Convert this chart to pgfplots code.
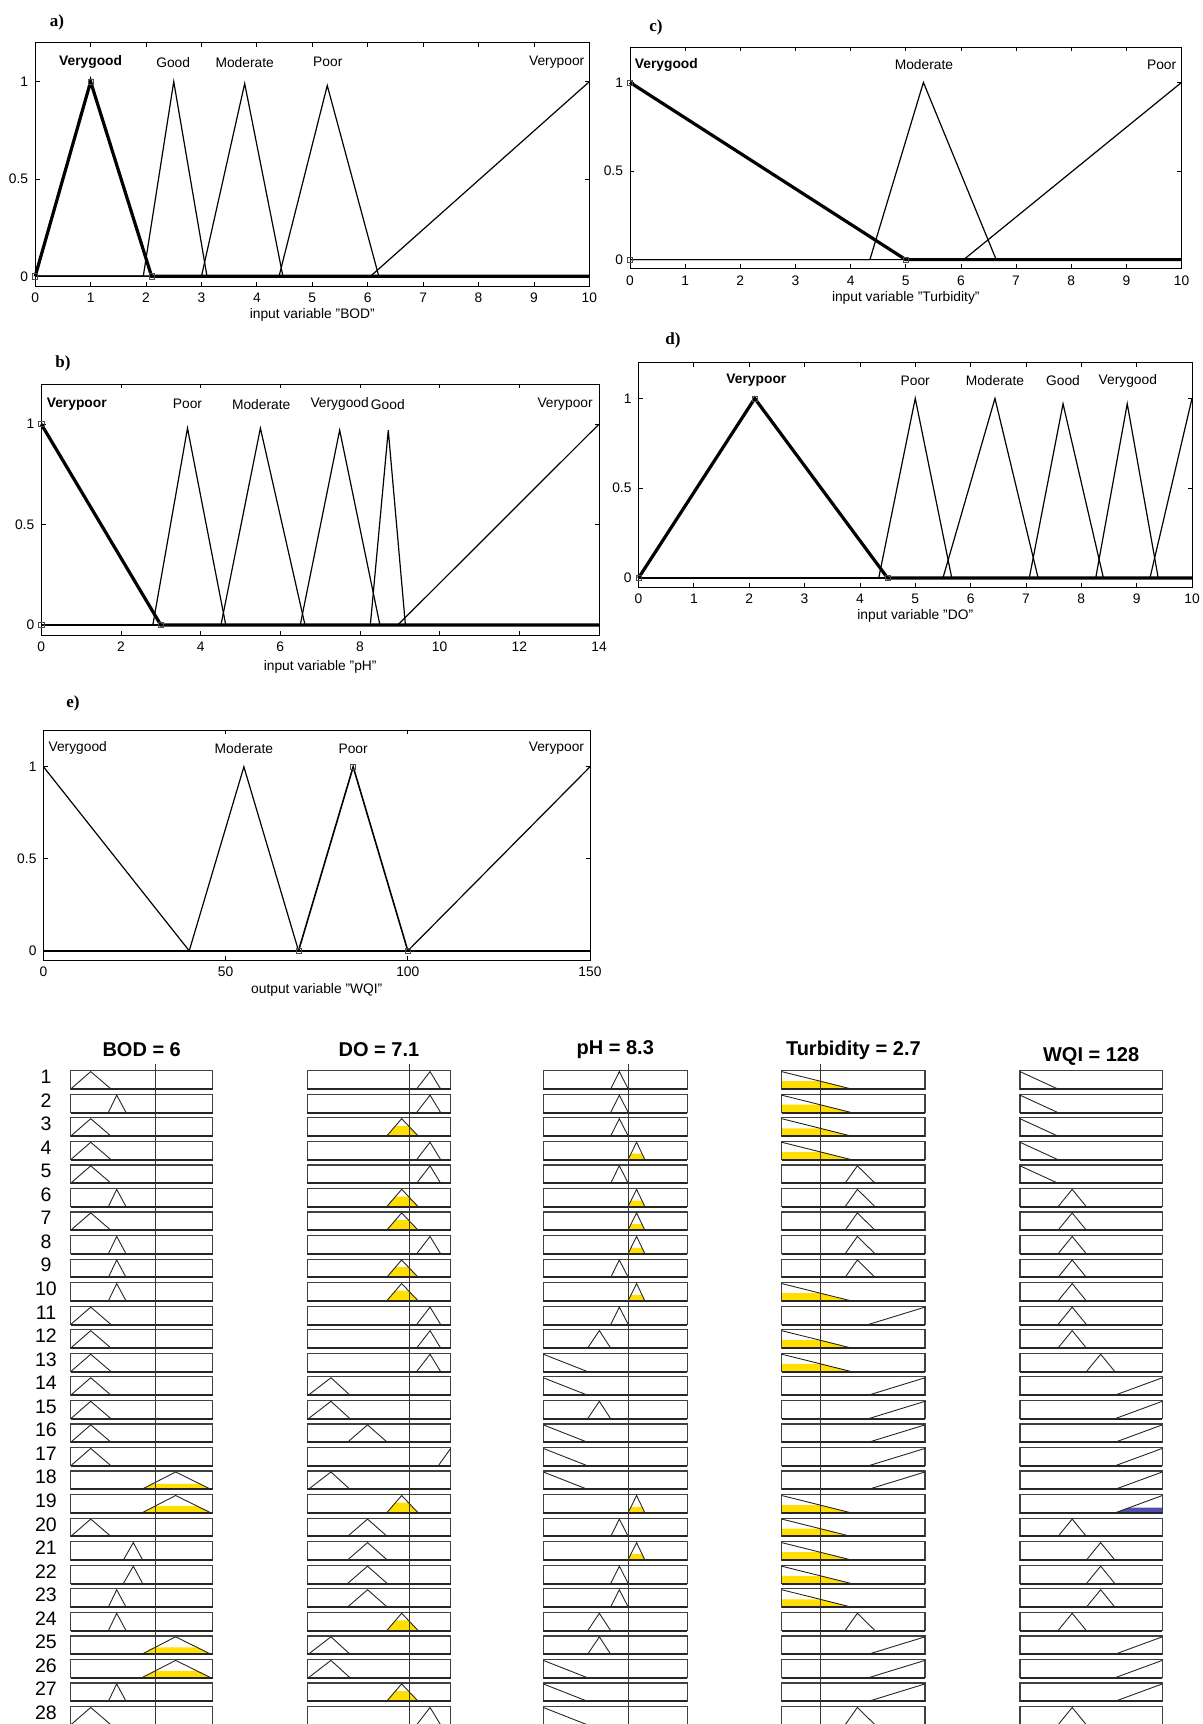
\documentclass[border=0pt]{standalone}
\usepackage{fontspec}
\setmainfont{Liberation Sans}
\newfontfamily\serifb{Liberation Serif}
\usepackage{pgfplots}
\pgfplotsset{compat=1.18}
\definecolor{ryellow}{RGB}{255,222,0}
\definecolor{rblue}{RGB}{80,80,175}
\newcommand\fs{\fontsize{6.9}{8}\selectfont}
\newcommand\plab{\serifb\fontsize{8.5}{10}\selectfont\bfseries}
\tikzset{
 nm/.style={font=\fs, inner sep=0pt},
 rtitle/.style={font=\fontsize{10}{12}\selectfont\bfseries},
}
\pgfplotsset{
 mfpanel/.style={scale only axis, anchor=north west, ymin=-0.05, ymax=1.2,
   ytick={0,0.5,1}, yticklabels={0,0.5,1}, tick align=inside, xtick pos=both, ytick pos=both,
   major tick length=2.2pt, axis line style={line width=0.5pt},
   every tick/.style={black, line width=0.4pt},
   tick label style={font=\fs}, label style={font=\fs},
   /pgf/number format/assume math mode=true, clip=false},
 mf/.style={black, line width=0.6pt, no markers},
 sel/.style={black, line width=1.6pt, no markers},
 sq/.style={only marks, mark=square, mark size=1.3pt, mark options={black!70, line width=0.3pt}},
 rv/.style={scale only axis, anchor=north west, hide axis, clip=false, y dir=reverse,
   ymin=-0.285, ymax=27.74, height=330pt},
 rboxst/.style={draw=black!75, line width=0.6pt, no markers},
 rbot/.style={draw=black!85, line width=1pt, no markers},
 rline/.style={draw=black!85, line width=0.45pt, no markers},
 vline/.style={draw=black!80, line width=0.45pt, no markers},
}
% rule-viewer helpers: row #1, membership value v drawn inside row box
\newcommand\rmf[2]{\addplot[rline, y filter/.expression={#1-1+0.74*(1.05-y)}] coordinates {#2};}
\newcommand\rfill[3][ryellow]{\addplot[fill=#1, draw=none, no markers, y filter/.expression={#2-1+0.74*(1.05-y)}] coordinates {#3} -- cycle;}
\newcommand\rbox[2]{\addplot[rboxst, y filter/.expression={#1-1+0.74*(1.05-y)}] coordinates {(0,0)(#2,0)(#2,1.05)(0,1.05)} -- cycle;
 \addplot[rbot, y filter/.expression={#1-1+0.74*(1.05-y)}] coordinates {(0,0)(#2,0)};}
% BOD shapes
\newcommand\bVG[1]{\rmf{#1}{(0,0)(1.41,1)(2.84,0)}}
\newcommand\bG[1]{\rmf{#1}{(2.65,0)(3.24,1)(3.9,0)}}
\newcommand\bC[1]{\rmf{#1}{(3.71,0)(4.41,1)(5.07,0)}}
\newcommand\bD[1]{\rmf{#1}{(5.0,0)(7.39,1)(9.88,0)}}
% DO shapes
\newcommand\dVG[1]{\rmf{#1}{(7.62,0)(8.56,1)(9.3,0)}}
\newcommand\dG[1]{\rmf{#1}{(5.53,0)(6.58,1)(7.74,0)}}
\newcommand\dVP[1]{\rmf{#1}{(0.07,0)(1.65,1)(2.98,0)}}
\newcommand\dM[1]{\rmf{#1}{(2.8,0)(4.2,1)(5.58,0)}}
\newcommand\dR[1]{\rmf{#1}{(9.13,0)(10,1)}}
% pH shapes
\newcommand\pA[1]{\rmf{#1}{(6.55,0)(7.39,1)(8.26,0)}}
\newcommand\pY[1]{\rmf{#1}{(8.23,0)(9.07,1)(9.88,0)}}
\newcommand\pB[1]{\rmf{#1}{(4.31,0)(5.45,1)(6.55,0)}}
\newcommand\pR[1]{\rmf{#1}{(0,1)(4.31,0)}}
% Turbidity shapes
\newcommand\tV[1]{\rmf{#1}{(0,1)(4.88,0)}}
\newcommand\tM[1]{\rmf{#1}{(4.42,0)(5.28,1)(6.52,0)}}
\newcommand\tP[1]{\rmf{#1}{(6.04,0)(10,1)}}
% WQI shapes
\newcommand\wV[1]{\rmf{#1}{(0,1)(40,0)}}
\newcommand\wM[1]{\rmf{#1}{(40,0)(55,1)(70,0)}}
\newcommand\wP[1]{\rmf{#1}{(70,0)(85,1)(100,0)}}
\newcommand\wR[1]{\rmf{#1}{(100,0)(150,1)}}

\begin{document}
\begin{tikzpicture}
\useasboundingbox (0,0) rectangle (601.5pt,-862pt);

% ---------- a) BOD
\node[font=\plab] at (28.5pt,-11pt) {a)};
\begin{axis}[mfpanel, at={(17.6pt,-21.35pt)}, width=277.1pt, height=121.65pt,
  xmin=0, xmax=10, xtick={0,1,...,10}, xlabel={input variable "BOD"}, xlabel style={yshift=4pt}]
\addplot[mf] coordinates {(0,0)(1.95,0)(2.5,1)(3.1,0)(10,0)};
\addplot[mf] coordinates {(0,0)(3.0,0)(3.78,0.99)(4.47,0)(10,0)};
\addplot[mf] coordinates {(0,0)(4.4,0)(5.27,0.98)(6.2,0)(10,0)};
\addplot[mf] coordinates {(0,0)(6.05,0)(10,1)};
\addplot[sel] coordinates {(0,0)(1,1)(2.1,0)(10,0)};
\addplot[sq] coordinates {(0,0)(1,1)(2.1,0)};
\node[nm] at (axis cs:1,1.1) {\textbf{Verygood}};
\node[nm] at (axis cs:2.49,1.1) {Good};
\node[nm] at (axis cs:3.78,1.1) {Moderate};
\node[nm] at (axis cs:5.28,1.1) {Poor};
\node[nm] at (axis cs:9.41,1.1) {Verypoor};
\end{axis}

% ---------- c) Turbidity
\node[font=\plab] at (328pt,-13.5pt) {c)};
\begin{axis}[mfpanel, at={(315pt,-23.5pt)}, width=275.75pt, height=110.75pt,
  xmin=0, xmax=10, xtick={0,1,...,10}, xlabel={input variable "Turbidity"}, xlabel style={yshift=4pt}]
\addplot[mf] coordinates {(0,0)(4.35,0)(5.32,1)(6.64,0)(10,0)};
\addplot[mf] coordinates {(0,0)(6.05,0)(10,1)};
\addplot[sel] coordinates {(0,1)(5,0)(10,0)};
\addplot[sq] coordinates {(0,0)(0,1)(5,0)};
\node[nm] at (axis cs:0.66,1.1) {\textbf{Verygood}};
\node[nm] at (axis cs:5.33,1.1) {Moderate};
\node[nm] at (axis cs:9.64,1.1) {Poor};
\end{axis}

% ---------- b) pH
\node[font=\plab] at (31.5pt,-181.5pt) {b)};
\begin{axis}[mfpanel, at={(20.65pt,-192pt)}, width=278.85pt, height=125.5pt,
  xmin=0, xmax=14, xtick={0,2,...,14}, xlabel={input variable "pH"}, xlabel style={yshift=2.5pt}]
\addplot[mf] coordinates {(0,0)(2.8,0)(3.67,0.98)(4.63,0)(14,0)};
\addplot[mf] coordinates {(0,0)(4.51,0)(5.5,0.98)(6.62,0)(14,0)};
\addplot[mf] coordinates {(0,0)(6.5,0)(7.49,0.97)(8.5,0)(14,0)};
\addplot[mf] coordinates {(0,0)(8.26,0)(8.71,0.97)(9.14,0)(14,0)};
\addplot[mf] coordinates {(0,0)(8.95,0)(14,1)};
\addplot[sel] coordinates {(0,1)(3,0)(14,0)};
\addplot[sq] coordinates {(0,0)(0,1)(3,0)};
\node[nm] at (axis cs:0.89,1.1) {\textbf{Verypoor}};
\node[nm] at (axis cs:3.67,1.1) {Poor};
\node[nm] at (axis cs:5.52,1.1) {Moderate};
\node[nm] at (axis cs:7.49,1.1) {Verygood};
\node[nm] at (axis cs:8.70,1.1) {Good};
\node[nm] at (axis cs:13.15,1.1) {Verypoor};
\end{axis}

% ---------- d) DO
\node[font=\plab] at (336.5pt,-170pt) {d)};
\begin{axis}[mfpanel, at={(319.25pt,-181.25pt)}, width=276.75pt, height=112.25pt,
  xmin=0, xmax=10, xtick={0,1,...,10}, xlabel={input variable "DO"}, xlabel style={yshift=4pt}]
\addplot[mf] coordinates {(0,0)(4.34,0)(5.0,1)(5.66,0)(10,0)};
\addplot[mf] coordinates {(0,0)(5.5,0)(6.44,1)(7.22,0)(10,0)};
\addplot[mf] coordinates {(0,0)(7.06,0)(7.67,0.97)(8.4,0)(10,0)};
\addplot[mf] coordinates {(0,0)(8.26,0)(8.83,0.97)(9.39,0)(10,0)};
\addplot[mf] coordinates {(0,0)(9.24,0)(10,1)};
\addplot[sel] coordinates {(0,0)(2.1,1)(4.5,0)(10,0)};
\addplot[sq] coordinates {(0,0)(2.1,1)(4.5,0)};
\node[nm] at (axis cs:2.13,1.1) {\textbf{Verypoor}};
\node[nm] at (axis cs:5.0,1.1) {Poor};
\node[nm] at (axis cs:6.44,1.1) {Moderate};
\node[nm] at (axis cs:7.67,1.1) {Good};
\node[nm] at (axis cs:8.84,1.1) {Verygood};
\end{axis}

% ---------- e) WQI
\node[font=\plab] at (36.5pt,-351.5pt) {e)};
\begin{axis}[mfpanel, at={(21.75pt,-365pt)}, width=273.25pt, height=115pt,
  xmin=0, xmax=150, xtick={0,50,100,150}, xlabel={output variable "WQI"}, xlabel style={yshift=3.5pt}]
\addplot[mf] coordinates {(0,1)(40,0)(150,0)};
\addplot[mf] coordinates {(0,0)(40,0)(55,1)(70,0)(150,0)};
\addplot[mf] coordinates {(0,0)(100,0)(150,1)};
\addplot[mf, line width=0.8pt] coordinates {(70,0)(85,1)(100,0)};
\addplot[black, line width=1.3pt, no markers] coordinates {(0,0)(150,0)};
\addplot[sq] coordinates {(70,0)(85,1)(100,0)};
\node[nm] at (axis cs:9.4,1.1) {Verygood};
\node[nm] at (axis cs:55,1.1) {Moderate};
\node[nm] at (axis cs:85,1.1) {Poor};
\node[nm] at (axis cs:140.8,1.1) {Verypoor};
\end{axis}

% ================= rule viewer
% BOD column
\begin{axis}[rv, at={(35.35pt,-532pt)}, width=71pt, xmin=0, xmax=10]
\pgfplotsinvokeforeach{19,25,26}{\rfill{#1}{(5.0,0)(5.96,0.4)(8.88,0.4)(9.88,0)}}
\rfill{18}{(5.0,0)(5.76,0.32)(9.08,0.32)(9.88,0)}
\pgfplotsinvokeforeach{1,...,28}{\rbox{#1}{10}}
\pgfplotsinvokeforeach{1,3,4,5,7,11,12,13,14,15,16,17,20,28}{\bVG{#1}}
\pgfplotsinvokeforeach{2,6,8,9,10,23,24,27}{\bG{#1}}
\pgfplotsinvokeforeach{21,22}{\bC{#1}}
\pgfplotsinvokeforeach{18,19,25,26}{\bD{#1}}
\addplot[vline] coordinates {(6,-0.285)(6,27.74)};
\node[rtitle] at (axis cs:5,-0.88) {BOD = 6};
\pgfplotsinvokeforeach{1,...,28}{\pgfmathsetmacro\yy{#1-0.74}\edef\tmp{\noexpand\node[font=\noexpand\fontsize{9.75}{11}\noexpand\selectfont] at (axis cs:-1.74,\yy) {#1};}\tmp}
\end{axis}

% DO column
\begin{axis}[rv, at={(153.65pt,-532pt)}, width=71.7pt, xmin=0, xmax=10]
\pgfplotsinvokeforeach{3,6,7,9,10,19,24,27}{\rfill{#1}{(5.53,0)(6.15,0.59)(7.06,0.59)(7.74,0)}}
\pgfplotsinvokeforeach{1,...,28}{\rbox{#1}{10}}
\pgfplotsinvokeforeach{1,2,4,5,8,11,12,13,28}{\dVG{#1}}
\pgfplotsinvokeforeach{3,6,7,9,10,19,24,27}{\dG{#1}}
\pgfplotsinvokeforeach{14,15,18,25,26}{\dVP{#1}}
\pgfplotsinvokeforeach{16,20,21,22,23}{\dM{#1}}
\dR{17}
\addplot[vline] coordinates {(7.1,-0.285)(7.1,27.74)};
\node[rtitle] at (axis cs:5,-0.88) {DO = 7.1};
\end{axis}

% pH column
\begin{axis}[rv, at={(271.65pt,-532pt)}, width=72pt, xmin=0, xmax=14]
\pgfplotsinvokeforeach{4,6,7,8,10,19,21}{\rfill{#1}{(8.23,0)(8.52,0.35)(9.6,0.35)(9.88,0)}}
\pgfplotsinvokeforeach{1,...,28}{\rbox{#1}{14}}
\pgfplotsinvokeforeach{1,2,3,5,9,11,20,22,23}{\pA{#1}}
\pgfplotsinvokeforeach{4,6,7,8,10,19,21}{\pY{#1}}
\pgfplotsinvokeforeach{12,15,24,25}{\pB{#1}}
\pgfplotsinvokeforeach{13,14,16,17,18,26,27,28}{\pR{#1}}
\addplot[vline] coordinates {(8.3,-0.285)(8.3,27.74)};
\node[rtitle] at (axis cs:7,-0.88) {pH = 8.3};
\end{axis}

% Turbidity column
\begin{axis}[rv, at={(390.85pt,-532pt)}, width=71.65pt, xmin=0, xmax=10]
\pgfplotsinvokeforeach{1,2,3,4,10,12,13,19,20,21,22,23}{\rfill{#1}{(0,0)(0,0.45)(2.68,0.45)(4.88,0)}}
\pgfplotsinvokeforeach{1,...,28}{\rbox{#1}{10}}
\pgfplotsinvokeforeach{1,2,3,4,10,12,13,19,20,21,22,23}{\tV{#1}}
\pgfplotsinvokeforeach{5,6,7,8,9,24,28}{\tM{#1}}
\pgfplotsinvokeforeach{11,14,15,16,17,18,25,26,27}{\tP{#1}}
\addplot[vline] coordinates {(2.7,-0.285)(2.7,27.74)};
\node[rtitle] at (axis cs:5,-0.88) {Turbidity = 2.7};
\end{axis}

% WQI column
\begin{axis}[rv, at={(510pt,-532pt)}, width=71.15pt, xmin=0, xmax=150]
\rfill[rblue]{19}{(100,0)(115,0.3)(150,0.3)(150,0)}
\pgfplotsinvokeforeach{1,...,28}{\rbox{#1}{150}}
\pgfplotsinvokeforeach{1,2,3,4,5}{\wV{#1}}
\pgfplotsinvokeforeach{6,7,8,9,10,11,12,20,24,28}{\wM{#1}}
\pgfplotsinvokeforeach{13,21,22,23}{\wP{#1}}
\pgfplotsinvokeforeach{14,15,16,17,18,19,25,26,27}{\wR{#1}}
\node[rtitle] at (axis cs:75,-0.62) {WQI = 128};
\end{axis}
\end{tikzpicture}
\end{document}
